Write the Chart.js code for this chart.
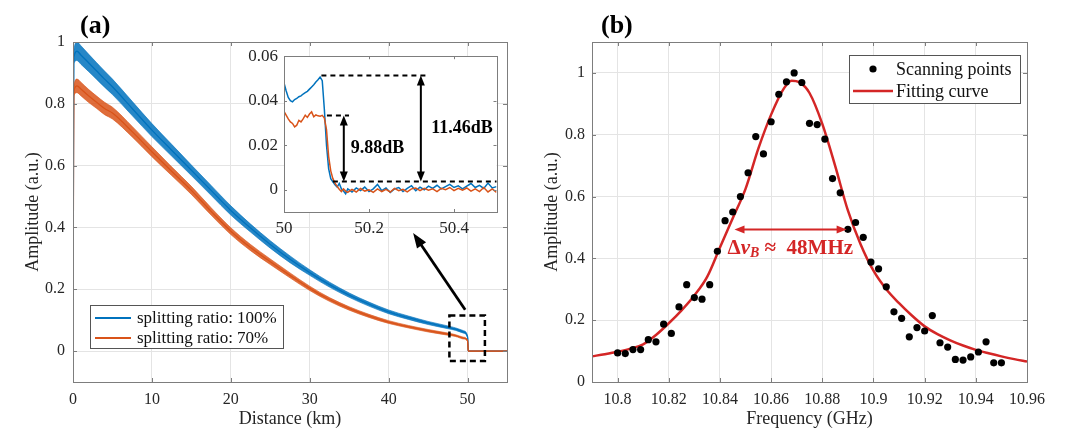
<!DOCTYPE html>
<html><head><meta charset="utf-8">
<script src="https://cdn.jsdelivr.net/npm/chart.js@4.4.1/dist/chart.umd.min.js"></script>
<style>
html,body{margin:0;padding:0;background:#fff;}
#wrap{position:relative;width:1080px;height:430px;overflow:hidden;background:#fff;}
canvas{position:absolute;}
.lbl{position:absolute;font-family:"Liberation Serif","Times New Roman",serif;font-weight:bold;font-size:26px;color:#000;line-height:1;}
</style></head>
<body><div id="wrap">
<canvas id="cA" style="left:0;top:0" width="540" height="430"></canvas>
<canvas id="cB" style="left:540px;top:0" width="540" height="430"></canvas>
<canvas id="cI" style="left:240px;top:40px" width="270" height="200"></canvas>
<div class="lbl" style="left:80px;top:12px">(a)</div>
<div class="lbl" style="left:601px;top:12px">(b)</div>
</div>
<script>
// ---------------- data: panel (a) ----------------
const distKm      = [0, 0.1, 0.5, 1, 2, 3, 4, 5, 7.5, 10, 12.5, 15, 17.5, 20, 22.5, 25, 27.5, 30, 32.5, 35, 37.5, 40, 42.5, 45, 47.5, 48.5, 49.5, 50.0, 50.1, 55];
const blueAmp     = [0, 0.95, 0.97, 0.958, 0.932, 0.906, 0.88, 0.855, 0.785, 0.715, 0.65, 0.585, 0.52, 0.455, 0.398, 0.345, 0.297, 0.254, 0.215, 0.181, 0.152, 0.127, 0.108, 0.091, 0.077, 0.071, 0.062, 0.046, 0, 0];
const blueNoise   = [0, 0.02, 0.03, 0.03, 0.028, 0.027, 0.026, 0.025, 0.023, 0.021, 0.019, 0.017, 0.016, 0.015, 0.013, 0.012, 0.011, 0.009, 0.008, 0.007, 0.0065, 0.006, 0.0055, 0.005, 0.0045, 0.004, 0.004, 0.003, 0, 0];
const orangeAmp   = [0, 0.84, 0.858, 0.848, 0.825, 0.805, 0.785, 0.77, 0.71, 0.645, 0.582, 0.52, 0.452, 0.388, 0.335, 0.289, 0.245, 0.203, 0.167, 0.138, 0.114, 0.094, 0.079, 0.066, 0.055, 0.05, 0.042, 0.034, 0, 0];
const orangeNoise = [0, 0.015, 0.022, 0.022, 0.021, 0.02, 0.02, 0.019, 0.017, 0.016, 0.014, 0.013, 0.012, 0.011, 0.01, 0.009, 0.008, 0.007, 0.006, 0.0055, 0.005, 0.0045, 0.004, 0.004, 0.0035, 0.003, 0.003, 0.002, 0, 0];
const xTicksA = [0, 10, 20, 30, 40, 50];
const xTickLabelsA = ['0', '10', '20', '30', '40', '50'];
const yTicksA = [0, 0.2, 0.4, 0.6, 0.8, 1];
const yTickLabelsA = ['0', '0.2', '0.4', '0.6', '0.8', '1'];

// ---------------- data: inset ----------------
const insetKm = [50.000, 50.005, 50.010, 50.015, 50.020, 50.025, 50.030, 50.035, 50.040, 50.045, 50.050, 50.055, 50.060, 50.065, 50.070, 50.075, 50.080, 50.085, 50.090, 50.095, 50.100, 50.105, 50.110, 50.115, 50.120, 50.125, 50.130, 50.135, 50.140, 50.145, 50.150,
  50.16, 50.17, 50.18, 50.19, 50.20, 50.21, 50.22, 50.23, 50.24, 50.25, 50.26, 50.27, 50.28, 50.29, 50.30, 50.31, 50.32, 50.33, 50.34, 50.35, 50.36, 50.37, 50.38, 50.39, 50.40, 50.41, 50.42, 50.43, 50.44, 50.45, 50.46, 50.47, 50.48, 50.49, 50.50];
const insetBlue = [0.0480, 0.0445, 0.0415, 0.0400, 0.0395, 0.0405, 0.0410, 0.0418, 0.0422, 0.0430, 0.0436, 0.0442, 0.0452, 0.0462, 0.0472, 0.0484, 0.0494, 0.0506, 0.0490, 0.0360, 0.0200, 0.0095, 0.0050, 0.0036, 0.0022, 0.0012, 0.0028, 0.0004, -0.0006, -0.0018, 0.0004,
  -0.0010, 0.0008, -0.0004, 0.0012, -0.0008, 0.0004, 0.0024, -0.0004, 0.0008, -0.0012, 0.0004, 0.0010, -0.0008, 0.0006, 0.0018, -0.0004, 0.0012, 0.0000, 0.0016, 0.0006, 0.0020, 0.0004, 0.0014, 0.0024, 0.0010, 0.0018, 0.0004, 0.0016, 0.0028, 0.0010, 0.0020, 0.0006, 0.0030, 0.0008, 0.0014];
const insetOrange = [0.0352, 0.0335, 0.0318, 0.0305, 0.0298, 0.0282, 0.0290, 0.0312, 0.0305, 0.0318, 0.0335, 0.0325, 0.0340, 0.0350, 0.0328, 0.0336, 0.0332, 0.0330, 0.0334, 0.0322, 0.0270, 0.0150, 0.0085, 0.0050, 0.0030, 0.0015, 0.0002, -0.0008, 0.0004, -0.0006, -0.0012,
  0.0002, -0.0010, 0.0006, -0.0006, 0.0000, -0.0012, 0.0004, -0.0008, 0.0002, -0.0010, 0.0006, -0.0004, 0.0002, -0.0010, 0.0004, 0.0008, -0.0004, 0.0006, -0.0002, 0.0004, -0.0008, 0.0006, 0.0000, 0.0010, -0.0004, 0.0006, -0.0002, 0.0008, -0.0006, 0.0004, -0.0008, 0.0010, -0.0010, 0.0004, -0.0012];
const xTicksInset = [50, 50.2, 50.4];
const xTickLabelsInset = ['50', '50.2', '50.4'];
const yTicksInset = [0, 0.02, 0.04, 0.06];
const yTickLabelsInset = ['0', '0.02', '0.04', '0.06'];

// ---------------- data: panel (b) ----------------
const scanFreq = [10.800, 10.803, 10.806, 10.809, 10.812, 10.815, 10.818, 10.821, 10.824, 10.827, 10.830, 10.833, 10.836, 10.839, 10.842, 10.845, 10.848, 10.851, 10.854, 10.857, 10.860, 10.863, 10.866, 10.869, 10.872, 10.875, 10.878, 10.881, 10.884, 10.887, 10.890, 10.893, 10.896, 10.899, 10.902, 10.905, 10.908, 10.911, 10.914, 10.917, 10.920, 10.923, 10.926, 10.929, 10.932, 10.935, 10.938, 10.941, 10.944, 10.947, 10.950];
const scanAmp = [0.094, 0.092, 0.105, 0.105, 0.137, 0.130, 0.187, 0.157, 0.243, 0.315, 0.273, 0.268, 0.315, 0.423, 0.522, 0.550, 0.600, 0.677, 0.794, 0.738, 0.842, 0.931, 0.971, 1.000, 0.969, 0.837, 0.833, 0.786, 0.658, 0.612, 0.494, 0.516, 0.468, 0.388, 0.366, 0.308, 0.227, 0.206, 0.146, 0.176, 0.165, 0.215, 0.127, 0.113, 0.073, 0.071, 0.081, 0.097, 0.130, 0.062, 0.062];
const fitFreq = [10.79, 10.795, 10.80, 10.805, 10.81, 10.815, 10.82, 10.825, 10.83, 10.835, 10.84, 10.845, 10.85, 10.855, 10.86, 10.865, 10.868, 10.871, 10.875, 10.88, 10.885, 10.89, 10.895, 10.90, 10.905, 10.91, 10.915, 10.92, 10.925, 10.93, 10.935, 10.94, 10.945, 10.95, 10.955, 10.96];
const fitAmp  = [0.083, 0.090, 0.098, 0.108, 0.122, 0.152, 0.190, 0.232, 0.280, 0.340, 0.435, 0.530, 0.625, 0.755, 0.865, 0.950, 0.975, 0.970, 0.935, 0.835, 0.700, 0.555, 0.445, 0.360, 0.300, 0.255, 0.215, 0.180, 0.155, 0.135, 0.118, 0.104, 0.093, 0.083, 0.074, 0.066];
const xTicksB = [10.8, 10.82, 10.84, 10.86, 10.88, 10.9, 10.92, 10.94, 10.96];
const xTickLabelsB = ['10.8', '10.82', '10.84', '10.86', '10.88', '10.9', '10.92', '10.94', '10.96'];
const yTicksB = [0, 0.2, 0.4, 0.6, 0.8, 1];
const yTickLabelsB = ['0', '0.2', '0.4', '0.6', '0.8', '1'];

// ---------------- styles ----------------
const SERIF = '"Liberation Serif", "Times New Roman", serif';
const BLUE = '#0072BD', ORANGE = '#D95319', RED = '#d42626';
const GRID = '#e4e4e4', FRAME = '#7d7d7d', TXT = '#262626';
Chart.defaults.font.family = SERIF;

const pts = (xs, ys) => xs.map((x, i) => ({x: x, y: ys[i]}));
const plus = (a, b, s) => a.map((v, i) => v + s * b[i]);

function arrowHead(ctx, x0, y0, x1, y1, len, w) {
  const a = Math.atan2(y1 - y0, x1 - x0), c = Math.cos(a), s = Math.sin(a);
  ctx.beginPath();
  ctx.moveTo(x1, y1);
  ctx.lineTo(x1 - len * c + w / 2 * s, y1 - len * s - w / 2 * c);
  ctx.lineTo(x1 - len * c - w / 2 * s, y1 - len * s + w / 2 * c);
  ctx.closePath(); ctx.fill();
}
function arrow(ctx, x0, y0, x1, y1, len, w, both) {
  const a = Math.atan2(y1 - y0, x1 - x0), c = Math.cos(a), s = Math.sin(a);
  ctx.beginPath();
  ctx.moveTo(both ? x0 + (len - 2) * c : x0, both ? y0 + (len - 2) * s : y0);
  ctx.lineTo(x1 - (len - 2) * c, y1 - (len - 2) * s);
  ctx.stroke();
  arrowHead(ctx, x0, y0, x1, y1, len, w);
  if (both) arrowHead(ctx, x1, y1, x0, y0, len, w);
}

// frame + inward ticks (+ optional white background)
const framePlugin = {
  id: 'frame',
  beforeDraw(chart, args, o) {
    if (!o.bg) return;
    const a = chart.chartArea, ctx = chart.ctx;
    ctx.save(); ctx.fillStyle = '#fff';
    ctx.fillRect(a.left, a.top, a.right - a.left, a.bottom - a.top);
    ctx.restore();
  },
  afterDatasetsDraw(chart, args, o) {
    const a = chart.chartArea, ctx = chart.ctx, tl = o.tick || 4;
    ctx.save();
    ctx.strokeStyle = FRAME; ctx.lineWidth = 1;
    ctx.beginPath();
    chart.scales.x.ticks.forEach(t => {
      const px = Math.round(chart.scales.x.getPixelForValue(t.value)) + 0.5;
      ctx.moveTo(px, a.bottom); ctx.lineTo(px, a.bottom - tl);
      ctx.moveTo(px, a.top); ctx.lineTo(px, a.top + tl);
    });
    chart.scales.y.ticks.forEach(t => {
      const py = Math.round(chart.scales.y.getPixelForValue(t.value)) + 0.5;
      ctx.moveTo(a.left, py); ctx.lineTo(a.left + tl, py);
      ctx.moveTo(a.right, py); ctx.lineTo(a.right - tl, py);
    });
    ctx.stroke();
    ctx.strokeRect(Math.round(a.left) + 0.5, Math.round(a.top) + 0.5, Math.round(a.right - a.left), Math.round(a.bottom - a.top));
    ctx.restore();
  }
};

function makeLegend(id, box, fontSize) {
  return {
    id: id,
    afterDraw(chart, args, o) {
      const ctx = chart.ctx;
      ctx.save();
      ctx.fillStyle = '#fff'; ctx.fillRect(box.x, box.y, box.w, box.h);
      ctx.strokeStyle = '#555'; ctx.lineWidth = 1;
      ctx.strokeRect(box.x + 0.5, box.y + 0.5, box.w, box.h);
      ctx.font = fontSize + 'px ' + SERIF; ctx.textBaseline = 'middle'; ctx.fillStyle = '#111';
      o.items.forEach((it, i) => {
        const ds = chart.data.datasets[it.ds];
        const cy = box.y + box.rows[i];
        if (it.kind === 'dot') {
          ctx.fillStyle = '#000'; ctx.beginPath();
          ctx.arc(box.x + box.sym + box.symW / 2, cy, 3.6, 0, Math.PI * 2); ctx.fill();
        } else {
          ctx.strokeStyle = ds.borderColor; ctx.lineWidth = it.lw;
          ctx.beginPath(); ctx.moveTo(box.x + box.sym, cy); ctx.lineTo(box.x + box.sym + box.symW, cy); ctx.stroke();
        }
        ctx.fillStyle = '#111';
        ctx.fillText(ds.label, box.x + box.text, cy + 1);
      });
      ctx.restore();
    }
  };
}

function scaleOpts(min, max, ticks, labels, size, fit, title, pad, fontSize) {
  const o = {
    type: 'linear', min: min, max: max,
    afterBuildTicks: s => { s.ticks = ticks.map(v => ({value: v})); },
    afterFit: s => { if (fit.h !== undefined) s.height = fit.h; if (fit.w !== undefined) s.width = fit.w; },
    ticks: { callback: (v, i) => labels[i], autoSkip: false, maxRotation: 0, padding: pad,
             font: {family: SERIF, size: fontSize}, color: TXT },
    grid: { display: size.grid, color: GRID, drawTicks: false, lineWidth: 1 },
    border: { display: false }
  };
  if (title) o.title = title;
  return o;
}

// ---------------- panel (a) ----------------
const zoomBox = [47.7, 52.2, -0.032, 0.115];
const zoomArrow = [49.7, 0.134, 43.1, 0.382];
const annotA = {
  id: 'annotA',
  afterDatasetsDraw(chart) {
    const {ctx, scales: {x, y}} = chart;
    ctx.save();
    ctx.strokeStyle = '#000'; ctx.fillStyle = '#000'; ctx.lineWidth = 2.5;
    ctx.setLineDash([6, 4]);
    const bx0 = x.getPixelForValue(zoomBox[0]), bx1 = x.getPixelForValue(zoomBox[1]);
    const by0 = y.getPixelForValue(zoomBox[3]), by1 = y.getPixelForValue(zoomBox[2]);
    ctx.strokeRect(bx0, by0, bx1 - bx0, by1 - by0);
    ctx.setLineDash([]);
    ctx.lineWidth = 2.8;
    arrow(ctx, x.getPixelForValue(zoomArrow[0]), y.getPixelForValue(zoomArrow[1]),
          x.getPixelForValue(zoomArrow[2]), y.getPixelForValue(zoomArrow[3]), 15, 11, false);
    ctx.restore();
  }
};

new Chart(document.getElementById('cA'), {
  type: 'line',
  data: {
    datasets: [
      {label: 'splitting ratio: 70%', data: pts(distKm, orangeAmp), borderColor: ORANGE, borderWidth: 1.3, pointRadius: 0, cubicInterpolationMode: 'monotone', order: 0},
      {label: 'o-up', data: pts(distKm, plus(orangeAmp, orangeNoise, 1)), borderColor: 'rgba(217,83,25,0.6)', borderWidth: 1, pointRadius: 0, fill: '+1', backgroundColor: 'rgba(217,83,25,0.85)', cubicInterpolationMode: 'monotone', order: 1},
      {label: 'o-lo', data: pts(distKm, plus(orangeAmp, orangeNoise, -1)), borderColor: 'rgba(217,83,25,0.6)', borderWidth: 1, pointRadius: 0, fill: false, cubicInterpolationMode: 'monotone', order: 1},
      {label: 'splitting ratio: 100%', data: pts(distKm, blueAmp), borderColor: BLUE, borderWidth: 1.3, pointRadius: 0, cubicInterpolationMode: 'monotone', order: 2},
      {label: 'b-up', data: pts(distKm, plus(blueAmp, blueNoise, 1)), borderColor: 'rgba(0,114,189,0.6)', borderWidth: 1, pointRadius: 0, fill: '+1', backgroundColor: 'rgba(0,114,189,0.85)', cubicInterpolationMode: 'monotone', order: 3},
      {label: 'b-lo', data: pts(distKm, plus(blueAmp, blueNoise, -1)), borderColor: 'rgba(0,114,189,0.6)', borderWidth: 1, pointRadius: 0, fill: false, cubicInterpolationMode: 'monotone', order: 3}
    ]
  },
  options: {
    responsive: false, animation: false, events: [],
    layout: {padding: {left: 0, top: 42, right: 33, bottom: 0}},
    plugins: {
      legend: {display: false}, tooltip: {enabled: false},
      frame: {tick: 4},
      legA: {items: [{ds: 3, kind: 'line', lw: 2}, {ds: 0, kind: 'line', lw: 2}]}
    },
    scales: {
      x: scaleOpts(0, 55, xTicksA, xTickLabelsA, {grid: true}, {h: 48},
        {display: true, text: 'Distance (km)', font: {family: SERIF, size: 18}, color: TXT, padding: {top: 0, bottom: 0}}, 8, 16),
      y: scaleOpts(-0.1, 1, yTicksA, yTickLabelsA, {grid: true}, {w: 73},
        {display: true, text: 'Amplitude (a.u.)', font: {family: SERIF, size: 18}, color: TXT, padding: {top: 22, bottom: 0}}, 8, 16)
    }
  },
  plugins: [framePlugin, annotA, makeLegend('legA', {x: 90, y: 305, w: 193, h: 43, sym: 5, symW: 36, text: 47, rows: [13, 33]}, 17)]
});

// ---------------- inset ----------------
const insetMarks = {
  dashTop: [50.088, 50.342, 0.0513],
  dashMid: [50.101, 50.153, 0.0334],
  dashLow: [50.115, 50.5, 0.0037],
  arrowMid: [50.1407, 0.0334, 0.0037],
  arrowTop: [50.322, 0.0513, 0.0037],
  text1: ['9.88dB', 50.220, 0.0184],
  text2: ['11.46dB', 50.419, 0.0278]
};
const annotI = {
  id: 'annotI',
  afterDatasetsDraw(chart) {
    const {ctx, scales: {x, y}} = chart, m = insetMarks;
    ctx.save();
    ctx.strokeStyle = '#000'; ctx.fillStyle = '#000'; ctx.lineWidth = 2;
    ctx.setLineDash([5, 4]);
    [m.dashTop, m.dashMid, m.dashLow].forEach(d => {
      const py = y.getPixelForValue(d[2]);
      ctx.beginPath(); ctx.moveTo(x.getPixelForValue(d[0]), py); ctx.lineTo(x.getPixelForValue(d[1]), py); ctx.stroke();
    });
    ctx.setLineDash([]);
    [m.arrowMid, m.arrowTop].forEach(a => {
      const px = x.getPixelForValue(a[0]);
      arrow(ctx, px, y.getPixelForValue(a[1]), px, y.getPixelForValue(a[2]), 10, 8, true);
    });
    ctx.font = 'bold 18px ' + SERIF; ctx.textAlign = 'center'; ctx.textBaseline = 'middle';
    [m.text1, m.text2].forEach(t => ctx.fillText(t[0], x.getPixelForValue(t[1]), y.getPixelForValue(t[2])));
    ctx.restore();
  }
};
new Chart(document.getElementById('cI'), {
  type: 'line',
  data: {
    datasets: [
      {label: 'splitting ratio: 70%', data: pts(insetKm, insetOrange), borderColor: ORANGE, borderWidth: 1.5, pointRadius: 0, tension: 0, order: 0},
      {label: 'splitting ratio: 100%', data: pts(insetKm, insetBlue), borderColor: BLUE, borderWidth: 1.5, pointRadius: 0, tension: 0, order: 1}
    ]
  },
  options: {
    responsive: false, animation: false, events: [],
    layout: {padding: {left: 0, top: 14, right: 13.5, bottom: 0}},
    plugins: {legend: {display: false}, tooltip: {enabled: false}, frame: {bg: true, tick: 3}},
    scales: {
      x: scaleOpts(50, 50.5, xTicksInset, xTickLabelsInset, {grid: false}, {h: 28}, null, 6, 17),
      y: scaleOpts(-0.01, 0.06, yTicksInset, yTickLabelsInset, {grid: false}, {w: 44}, null, 6, 17)
    }
  },
  plugins: [framePlugin, annotI]
});

// ---------------- panel (b) ----------------
const fwhmArrow = [10.8457, 10.8895, 0.493];
const fwhmText = [10.8675, 0.4317];
const annotB = {
  id: 'annotB',
  afterDatasetsDraw(chart) {
    const {ctx, scales: {x, y}} = chart;
    ctx.save();
    ctx.strokeStyle = RED; ctx.fillStyle = RED; ctx.lineWidth = 2;
    const ya = y.getPixelForValue(fwhmArrow[2]);
    arrow(ctx, x.getPixelForValue(fwhmArrow[0]), ya, x.getPixelForValue(fwhmArrow[1]), ya, 10, 8, true);
    const parts = [['\u0394', 'bold 21px ' + SERIF, 0], ['\u03bd', 'italic bold 21px ' + SERIF, 0],
                   ['B', 'italic bold 14px ' + SERIF, 5], [' \u2248  48MHz', 'bold 21px ' + SERIF, 0]];
    let total = 0;
    parts.forEach(p => { ctx.font = p[1]; p.push(ctx.measureText(p[0]).width); total += p[3]; });
    let cx = x.getPixelForValue(fwhmText[0]) - total / 2;
    const cy = y.getPixelForValue(fwhmText[1]);
    ctx.textBaseline = 'middle'; ctx.textAlign = 'left';
    parts.forEach(p => { ctx.font = p[1]; ctx.fillText(p[0], cx, cy + p[2]); cx += p[3]; });
    ctx.restore();
  }
};
new Chart(document.getElementById('cB'), {
  type: 'scatter',
  data: {
    datasets: [
      {label: 'Scanning points', data: pts(scanFreq, scanAmp), pointRadius: 3.6, pointBackgroundColor: '#000', pointBorderWidth: 0, borderColor: '#000', order: 0},
      {type: 'line', label: 'Fitting curve', data: pts(fitFreq, fitAmp), showLine: true, borderColor: RED, borderWidth: 2.5, pointRadius: 0, cubicInterpolationMode: 'monotone', order: 1}
    ]
  },
  options: {
    responsive: false, animation: false, events: [],
    layout: {padding: {left: 0, top: 42, right: 53, bottom: 0}},
    plugins: {
      legend: {display: false}, tooltip: {enabled: false},
      frame: {tick: 4},
      legB: {items: [{ds: 0, kind: 'dot'}, {ds: 1, kind: 'line', lw: 2.5}]}
    },
    scales: {
      x: scaleOpts(10.79, 10.96, xTicksB, xTickLabelsB, {grid: true}, {h: 48},
        {display: true, text: 'Frequency (GHz)', font: {family: SERIF, size: 18}, color: TXT, padding: {top: 0, bottom: 0}}, 8, 16),
      y: scaleOpts(0, 1.1, yTicksB, yTickLabelsB, {grid: true}, {w: 52},
        {display: true, text: 'Amplitude (a.u.)', font: {family: SERIF, size: 18}, color: TXT, padding: {top: 1, bottom: 0}}, 7, 16)
    }
  },
  plugins: [framePlugin, annotB, makeLegend('legB', {x: 309, y: 55, w: 171, h: 48, sym: 4, symW: 40, text: 47, rows: [14, 36]}, 18)]
});
</script>
</body></html>
